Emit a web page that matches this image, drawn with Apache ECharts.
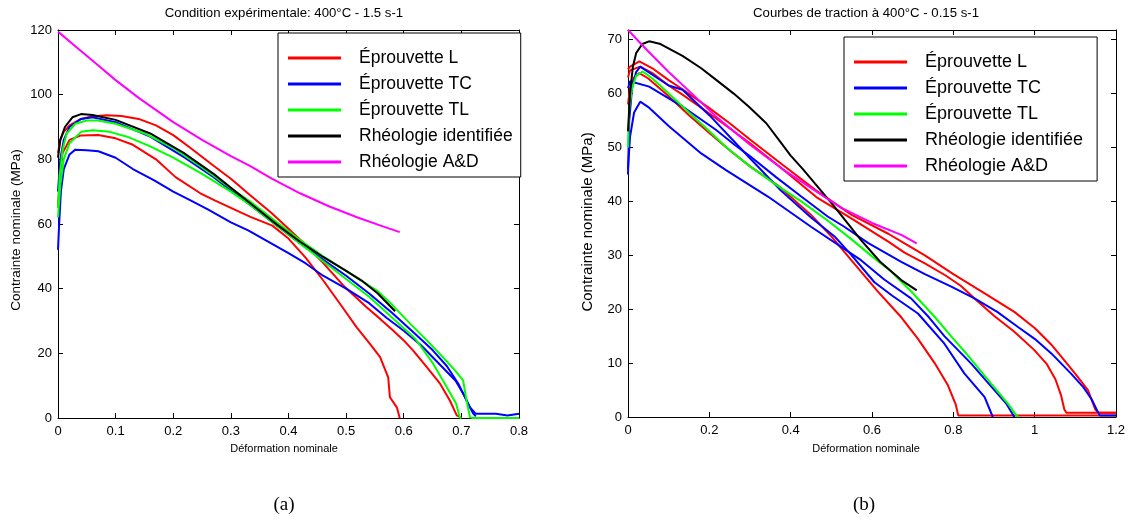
<!DOCTYPE html>
<html>
<head>
<meta charset="utf-8">
<script src="https://cdn.jsdelivr.net/npm/echarts@6/dist/echarts.min.js"></script>
<style>
html,body{margin:0;padding:0;background:#fff;}
#chart{width:1135px;height:521px;}
</style>
</head>
<body>
<div id="chart"></div>
<script>
// ---------- labels ----------
const titleA = 'Condition expérimentale: 400°C - 1.5 s-1';
const titleB = 'Courbes de traction à 400°C - 0.15 s-1';
const xName = 'Déformation nominale';
const yName = 'Contrainte nominale (MPa)';
const legendNames = ['Éprouvette L', 'Éprouvette TC', 'Éprouvette TL', 'Rhéologie identifiée', 'Rhéologie A&D'];
const captions = ['(a)', '(b)'];

// ---------- chart (a): 400°C - 1.5 s-1 ----------
const a_L1 = [[0,82],[0.004,86],[0.01,88.5],[0.02,90.5],[0.04,92.5],[0.06,93.3],[0.085,93.6],[0.11,93.4],[0.14,92.5],[0.17,90.5],[0.2,87.5],[0.23,83.5],[0.27,78],[0.3,74],[0.333,69],[0.37,63.5],[0.4,58.5],[0.43,53.5],[0.46,48],[0.495,41],[0.535,34.3],[0.56,30.5],[0.582,27],[0.6,24],[0.616,20.9],[0.64,15.7],[0.663,10.6],[0.68,5.4],[0.692,0.8],[0.7,0]];
const a_L2 = [[0,65],[0.003,75],[0.008,82],[0.02,86],[0.04,87.4],[0.07,87.5],[0.1,86.5],[0.13,84.5],[0.17,80],[0.204,74.5],[0.247,69.5],[0.272,67.3],[0.3,65],[0.334,62.2],[0.372,59.5],[0.4,55.5],[0.43,49.5],[0.46,42.6],[0.489,35.4],[0.518,28.1],[0.541,23],[0.559,18.8],[0.573,12.6],[0.576,6.4],[0.588,3.3],[0.593,0]];
const a_TC1 = [[0,52],[0.002,60],[0.005,70],[0.01,77],[0.02,81.5],[0.03,83],[0.05,82.8],[0.07,82.5],[0.1,80.5],[0.13,77],[0.167,73.5],[0.2,70],[0.23,67.3],[0.26,64.5],[0.3,60.5],[0.33,58],[0.36,55],[0.4,51],[0.43,47.8],[0.46,44],[0.5,40],[0.54,35.5],[0.57,31],[0.6,27],[0.63,22.5],[0.66,17],[0.69,11.5],[0.705,7],[0.715,3.3],[0.725,1.3],[0.76,1.3],[0.76,0.8],[0.78,0.8],[0.78,1.3],[0.8,1.3]];
const a_TC2 = [[0,70],[0.004,80],[0.01,86],[0.02,90],[0.04,92.5],[0.06,93],[0.1,91.5],[0.16,87],[0.22,80.5],[0.27,74.5],[0.333,66],[0.38,59.5],[0.42,54],[0.46,49],[0.5,44],[0.54,38.5],[0.58,32.5],[0.62,26],[0.65,21],[0.675,16],[0.695,10.5],[0.71,5],[0.72,1.5],[0.725,0.5]];
const a_TL1 = [[0,65],[0.003,75],[0.008,83],[0.015,88],[0.03,91],[0.05,92],[0.07,92],[0.1,91],[0.15,88],[0.2,83.5],[0.25,77.5],[0.3,71],[0.333,67],[0.38,60.5],[0.42,55],[0.46,50],[0.5,45.5],[0.53,42],[0.553,39.5],[0.58,35],[0.611,29.2],[0.64,24],[0.668,18.8],[0.69,14.5],[0.703,11.6],[0.709,5.4],[0.715,0.2],[0.72,0],[0.8,0]];
const a_TL2 = [[0,62],[0.004,72],[0.01,80],[0.02,85],[0.04,88.5],[0.06,89],[0.09,88.5],[0.12,87],[0.16,84],[0.2,80.5],[0.25,75.5],[0.3,70],[0.333,66],[0.38,59.5],[0.42,54],[0.46,48.5],[0.5,43],[0.54,37.5],[0.58,31],[0.62,24.5],[0.651,16.8],[0.67,11],[0.691,4.4],[0.697,0.2],[0.7,0]];
const a_ident = [[0,80.5],[0.004,86],[0.012,90],[0.025,93],[0.04,94],[0.06,93.7],[0.1,92.2],[0.16,88],[0.218,82],[0.27,75.5],[0.333,66.5],[0.38,59.8],[0.42,54.5],[0.46,49.8],[0.5,45.5],[0.527,42.5],[0.555,38.5],[0.585,33]];
const a_AD = [[0,119.5],[0.03,115],[0.07,109],[0.1,104.5],[0.14,99],[0.2,91.5],[0.25,86],[0.3,81],[0.333,78],[0.371,74],[0.42,69.5],[0.47,65.5],[0.52,62],[0.56,59.5],[0.593,57.5]];

// ---------- chart (b): 400°C - 0.15 s-1 ----------
const b_L1 = [[0,64.5],[0.005,65],[0.028,66],[0.06,64.7],[0.1,62.5],[0.134,60.8],[0.2,57.3],[0.25,54.5],[0.3,51.5],[0.38,46.8],[0.463,42],[0.55,37.5],[0.64,34],[0.68,32.2],[0.73,30],[0.8,26.5],[0.876,23],[0.95,19.5],[1.0,16.5],[1.04,13.5],[1.073,10.5],[1.1,8],[1.131,5],[1.149,1.4],[1.158,0.8],[1.2,0.8]];
const b_L2 = [[0,63],[0.005,64.3],[0.03,65],[0.06,63.8],[0.1,61.5],[0.134,59.8],[0.2,56.3],[0.3,50.8],[0.38,46],[0.463,40.8],[0.55,36.8],[0.641,32.5],[0.68,30.5],[0.73,28.5],[0.78,26.3],[0.819,24.3],[0.852,22],[0.9,18.8],[0.95,15.8],[0.998,12.5],[1.03,9.8],[1.051,7],[1.065,4],[1.073,1.4],[1.078,0.8],[1.2,0.8]];
const b_L3 = [[0,58],[0.005,61],[0.015,63],[0.028,63.8],[0.05,62.8],[0.1,59.5],[0.15,56],[0.2,52.7],[0.25,49.5],[0.3,46.5],[0.368,43],[0.45,37.5],[0.5,33.5],[0.549,29.1],[0.614,23.3],[0.672,18.5],[0.713,14.5],[0.754,10],[0.786,6],[0.806,2.3],[0.812,0.3],[1.2,0.3]];
const b_TC1 = [[0,45],[0.003,55],[0.01,61],[0.02,64],[0.03,65],[0.06,63.5],[0.1,61.5],[0.134,60.7],[0.2,56],[0.3,48],[0.376,42],[0.45,37],[0.508,33.5],[0.55,30],[0.606,25],[0.65,22.5],[0.713,19.2],[0.778,13.6],[0.827,8.1],[0.877,3.7],[0.897,0]];
const b_TC2 = [[0,61],[0.005,62.3],[0.052,61.3],[0.134,57.6],[0.216,53.3],[0.262,50.5],[0.298,48.5],[0.364,44.5],[0.426,40.9],[0.491,37.2],[0.532,35.3],[0.59,32.3],[0.672,28.8],[0.73,26.5],[0.795,24.2],[0.852,22],[0.908,19.5],[0.959,16.7],[1.0,14.5],[1.041,11.8],[1.09,8],[1.12,5.5],[1.14,3.3],[1.155,1],[1.16,0.3],[1.2,0.3]];
const b_TC3 = [[0,46],[0.005,52],[0.015,56.5],[0.03,58.5],[0.05,57.5],[0.1,54],[0.18,48.9],[0.241,45.8],[0.344,40.9],[0.45,35.3],[0.573,29.1],[0.63,25.5],[0.696,22],[0.74,18.5],[0.778,15],[0.844,9.9],[0.901,5],[0.93,2.5],[0.95,0]];
const b_TL = [[0,50],[0.003,57],[0.01,61],[0.02,63.3],[0.036,64.1],[0.06,62.8],[0.1,60],[0.15,56.5],[0.2,53],[0.245,49.8],[0.3,46.5],[0.36,43.3],[0.426,40],[0.49,36.5],[0.549,33],[0.6,29.8],[0.647,27],[0.7,23],[0.754,18.6],[0.8,14.5],[0.827,12.2],[0.86,9.2],[0.893,6.2],[0.934,2.5],[0.955,0.3],[0.96,0]];
const b_ident = [[0,53],[0.005,60],[0.012,65],[0.02,67.5],[0.035,69.2],[0.052,69.7],[0.08,69.2],[0.134,67],[0.18,64.7],[0.216,62.6],[0.26,60],[0.298,57.5],[0.34,54.5],[0.37,51.5],[0.4,48.5],[0.43,46],[0.46,43.3],[0.508,39],[0.573,32.8],[0.62,28.8],[0.672,25.4],[0.71,23.5]];
const b_AD = [[0,71.8],[0.05,67.8],[0.1,64],[0.167,59.3],[0.22,55.5],[0.3,50.5],[0.38,46],[0.46,42],[0.52,39],[0.6,36],[0.672,33.8],[0.71,32.2]];

// ---------- axis ranges / ticks ----------
const xTicksA = {min: 0, max: 0.8, interval: 0.1};
const yTicksA = {min: 0, max: 120, interval: 20};
const xTicksB = {min: 0, max: 1.2, interval: 0.2};
const yTicksB = {min: 0, max: 71.8, interval: 10};

// ---------- styling ----------
const colors = {'Éprouvette L':'#ff0000','Éprouvette TC':'#0000ff','Éprouvette TL':'#00ff00','Rhéologie identifiée':'#000000','Rhéologie A&D':'#ff00ff'};
const FONT = '"Liberation Sans", Arial, sans-serif';
const fmt = v => String(Math.round(v * 10) / 10);

function xAx(grid, r, top) {
  return {
    type: 'value', gridIndex: grid, position: top ? 'top' : 'bottom',
    min: r.min, max: r.max, interval: r.interval,
    axisLine: {show: true, onZero: false, lineStyle: {color: '#000', width: 1}},
    axisTick: {show: true, inside: true, length: 5, lineStyle: {color: '#000'}},
    axisLabel: {show: !top, margin: 7, color: '#000', fontFamily: FONT, fontSize: 13, formatter: fmt},
    splitLine: {show: false}
  };
}
function yAx(grid, r, right) {
  return {
    type: 'value', gridIndex: grid, position: right ? 'right' : 'left',
    min: r.min, max: r.max, interval: r.interval,
    axisLine: {show: true, onZero: false, lineStyle: {color: '#000', width: 1}},
    axisTick: {show: true, inside: true, length: 5, lineStyle: {color: '#000'}},
    axisLabel: {show: !right, margin: 6, color: '#000', fontFamily: FONT, fontSize: 13, formatter: fmt, showMaxLabel: (r.max % r.interval === 0)},
    splitLine: {show: false}
  };
}
function line(name, data, idx, z) {
  return {
    type: 'line', name: name, data: data, xAxisIndex: idx, yAxisIndex: idx,
    symbol: 'none', showSymbol: false, animation: false, z: z,
    lineStyle: {color: colors[name], width: 2}, itemStyle: {color: colors[name]}
  };
}
function legend(left, top, padRight, fs) {
  return {
    data: legendNames, orient: 'vertical', left: left, top: top,
    icon: 'rect', itemWidth: 53, itemHeight: 3, itemGap: 6,
    padding: [15, padRight, 5, 10], borderColor: '#000', borderWidth: 1, backgroundColor: '#fff',
    selectedMode: false,
    textStyle: {fontFamily: FONT, fontSize: fs, color: '#000', lineHeight: 20, padding: [0, 0, 0, 13]}
  };
}
function txt(x, y, text, font, rot) {
  return {type: 'text', x: x, y: y, rotation: rot || 0, z: 100,
    style: {text: text, fill: '#000', font: font, align: 'center', verticalAlign: 'middle'}};
}

const option = {
  backgroundColor: '#fff',
  animation: false,
  grid: [
    {left: 58, top: 30, width: 461, height: 388},
    {left: 628, top: 30, width: 488, height: 387}
  ],
  xAxis: [xAx(0, xTicksA, false), xAx(1, xTicksB, false), xAx(0, xTicksA, true), xAx(1, xTicksB, true)],
  yAxis: [yAx(0, yTicksA, false), yAx(1, yTicksB, false), yAx(0, yTicksA, true), yAx(1, yTicksB, true)],
  legend: [legend(278, 33, 8, 17.5), legend(844, 37, 14, 18)],
  series: [
    line('Éprouvette L', a_L1, 0, 2), line('Éprouvette L', a_L2, 0, 2),
    line('Éprouvette TC', a_TC1, 0, 3), line('Éprouvette TC', a_TC2, 0, 3),
    line('Éprouvette TL', a_TL1, 0, 4), line('Éprouvette TL', a_TL2, 0, 4),
    line('Rhéologie identifiée', a_ident, 0, 5), line('Rhéologie A&D', a_AD, 0, 6),
    line('Éprouvette L', b_L1, 1, 2), line('Éprouvette L', b_L2, 1, 2), line('Éprouvette L', b_L3, 1, 2),
    line('Éprouvette TC', b_TC1, 1, 3), line('Éprouvette TC', b_TC2, 1, 3), line('Éprouvette TC', b_TC3, 1, 3),
    line('Éprouvette TL', b_TL, 1, 4),
    line('Rhéologie identifiée', b_ident, 1, 5), line('Rhéologie A&D', b_AD, 1, 6)
  ],
  graphic: [
    txt(284, 13, titleA, '13.2px ' + FONT),
    txt(866, 13, titleB, '13.2px ' + FONT),
    txt(284, 449, xName, '11px ' + FONT),
    txt(866, 449, xName, '11px ' + FONT),
    txt(16, 230, yName, '13.5px ' + FONT, Math.PI / 2),
    txt(588, 222, yName, '15px ' + FONT, Math.PI / 2),
    txt(284, 505, captions[0], '19px "Liberation Serif", "Times New Roman", serif'),
    txt(864, 505, captions[1], '19px "Liberation Serif", "Times New Roman", serif')
  ]
};
const chart = echarts.init(document.getElementById('chart'), null, {renderer: 'canvas'});
chart.setOption(option);
</script>
</body>
</html>
